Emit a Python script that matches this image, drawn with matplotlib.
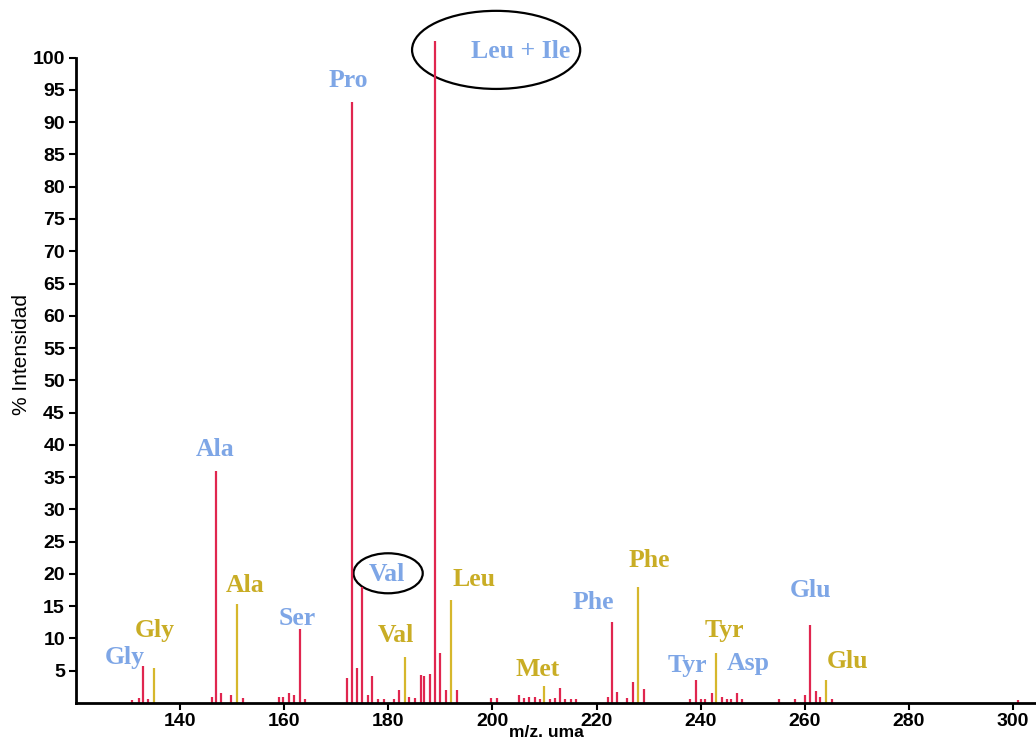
import matplotlib
matplotlib.use("Agg")
import matplotlib.pyplot as plt
from matplotlib.patches import Ellipse

# fragment peaks (red) and reference peaks (yellow), m/z vs % intensity
red_mz = [130.7, 132.1, 132.8, 133.9,
          146.1, 146.9, 147.9, 149.7, 152.0,
          159.0, 159.7, 160.9, 161.9, 163.1, 164.0,
          172.1, 173.1, 173.9, 175.0, 176.0, 176.8, 178.0, 179.1, 181.0, 182.1,
          183.9, 185.1, 186.2, 186.9, 188.0, 189.0, 189.9, 191.0, 193.2,
          199.8, 200.8, 205.1, 206.1, 207.1, 208.1, 209.1, 211.1, 212.0, 212.9,
          214.0, 215.0, 216.1,
          222.1, 222.9, 224.0, 225.8, 227.0, 229.1,
          238.0, 239.1, 240.0, 240.9, 242.1, 244.0, 245.0, 245.8, 246.9, 248.0,
          255.1, 258.1, 260.0, 261.0, 262.1, 262.9, 265.2, 301.0]
red_int = [0.5, 0.7, 5.7, 0.6,
           1.0, 35.9, 1.6, 1.3, 0.7,
           1.0, 1.0, 1.6, 1.3, 11.5, 0.6,
           3.8, 93.2, 5.5, 18.0, 1.3, 4.2, 0.6, 0.6, 0.6, 2.0,
           1.0, 0.7, 4.4, 4.2, 4.5, 102.6, 7.7, 2.0, 2.0,
           0.7, 0.7, 1.3, 0.7, 1.0, 1.0, 0.6, 0.6, 0.7, 2.3,
           0.6, 0.6, 0.6,
           0.9, 12.5, 1.7, 0.7, 3.3, 2.2,
           0.6, 3.5, 0.6, 0.6, 1.6, 1.0, 0.6, 0.6, 1.6, 0.6,
           0.6, 0.6, 1.3, 12.1, 1.9, 1.0, 0.6, 0.5]

yellow_mz = [135.0, 150.9, 183.2, 192.1, 209.8, 228.0, 242.9, 264.0]
yellow_int = [5.4, 15.3, 7.1, 15.9, 2.6, 17.9, 7.7, 3.5]

blue_labels = ["Gly", "Ala", "Ser", "Pro", "Val", "Leu + Ile", "Phe", "Tyr", "Asp", "Glu"]
yellow_labels = ["Gly", "Ala", "Val", "Leu", "Met", "Phe", "Tyr", "Glu"]

x_ticks = [140, 160, 180, 200, 220, 240, 260, 280, 300]
y_ticks = [5, 10, 15, 20, 25, 30, 35, 40, 45, 50, 55, 60, 65, 70, 75, 80, 85, 90, 95, 100]

RED = "#e0264f"
YELLOW = "#d6b72c"
BLUE_TXT = "#7ea6e6"
YELLOW_TXT = "#c9ad25"

# label anchor points (data coords)
blue_pos = [(129.4, 7.1), (146.7, 39.3), (162.5, 13.1), (172.3, 96.4), (179.8, 19.9),
            (205.5, 100.9), (219.3, 15.6), (237.4, 5.8), (249.1, 6.1), (261.0, 17.4)]
yellow_pos = [(135.2, 11.2), (152.5, 18.2), (181.5, 10.5), (196.5, 19.1), (208.6, 5.2),
              (230.1, 22.1), (244.5, 11.2), (268.1, 6.4)]

fig = plt.figure(figsize=(10.36, 7.42), dpi=100)
ax = fig.add_axes([76 / 1036, 1 - 703 / 742, 1 - 76 / 1036, 697 / 742])

ax.vlines(red_mz, 0, red_int, color=RED, linewidth=1.6)
ax.vlines(yellow_mz, 0, yellow_int, color=YELLOW, linewidth=1.6)

ax.set_xlim(120, 304.4)
ax.set_ylim(0, 108)

serif = dict(family="Liberation Serif", fontweight="bold", fontsize=18.5,
             ha="center", va="center")
for text, (x, y) in zip(blue_labels, blue_pos):
    ax.text(x, y, text, color=BLUE_TXT, **serif)
for text, (x, y) in zip(yellow_labels, yellow_pos):
    ax.text(x, y, text, color=YELLOW_TXT, **serif)

ax.add_patch(Ellipse((200.7, 101.2), 32.3, 12.1, fill=False, edgecolor="black",
                     linewidth=1.6, clip_on=False))
ax.add_patch(Ellipse((179.95, 20.1), 13.3, 6.2, fill=False, edgecolor="black",
                     linewidth=1.6))

for side in ["top", "right"]:
    ax.spines[side].set_visible(False)
for side in ["left", "bottom"]:
    ax.spines[side].set_linewidth(2)
ax.spines["left"].set_bounds(0, 100)

ax.set_xticks(x_ticks)
ax.set_yticks(y_ticks)
ax.tick_params(axis="both", direction="out", length=5, width=1.5, pad=3)
ax.tick_params(axis="x", pad=2)
for lbl in ax.get_xticklabels() + ax.get_yticklabels():
    lbl.set_family("Liberation Sans")
    lbl.set_fontweight("bold")
    lbl.set_fontsize(14)

ax.set_ylabel("% Intensidad", family="Liberation Sans", fontsize=15, labelpad=1)
ax.set_xlabel("m/z. uma", family="Liberation Sans", fontweight="bold", fontsize=12.5)
ax.xaxis.set_label_coords(0.49, -0.042)
ax.xaxis.label.set_va("center")

fig.savefig("out.png", dpi=100)
